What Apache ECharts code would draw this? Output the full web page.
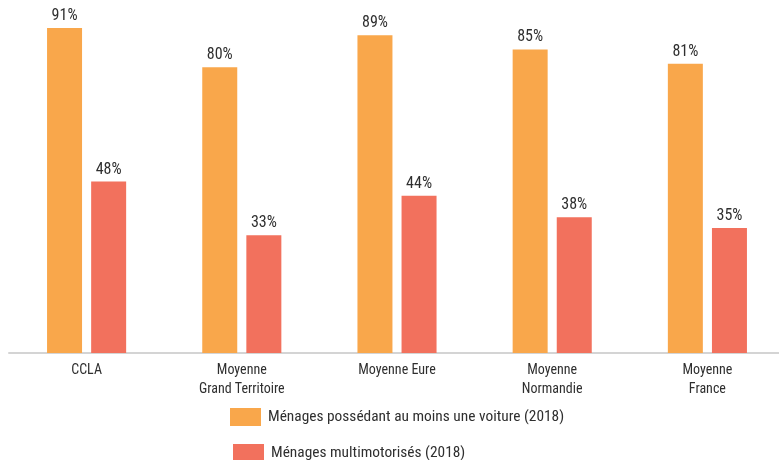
<!DOCTYPE html>
<html>
<head>
<meta charset="utf-8">
<style>
  html, body { margin: 0; padding: 0; background: #ffffff; }
  #chart { width: 779px; height: 460px; }
</style>
<script src="https://cdn.jsdelivr.net/npm/echarts@6/dist/echarts.min.js"></script>
</head>
<body>
<div id="chart"></div>
<script>
// Territories compared
const categories = ['CCLA', 'Moyenne\nGrand Territoire', 'Moyenne Eure', 'Moyenne\nNormandie', 'Moyenne\nFrance'];
// Share of households (%)
const auMoinsUneVoiture = [91, 80, 89, 85, 81];
const multimotorises = [48, 33, 44, 38, 35];
const seriesNames = ['Ménages possédant au moins une voiture (2018)', 'Ménages multimotorisés (2018)'];
const colors = ['#F9A74B', '#F2715D'];

const FONT = "'Roboto Condensed', 'DejaVu Sans Condensed', sans-serif";
const TEXT = '#2f2f2f';
const chart = echarts.init(document.getElementById('chart'), null, { renderer: 'canvas' });

const labelStyle = {
  show: true,
  position: 'top',
  distance: 4,
  formatter: '{c}%',
  color: TEXT,
  fontFamily: FONT,
  fontSize: 16
};

// one legend block per series, stacked vertically below the axis
function legendBlock(idx, left, top) {
  return {
    left: left,
    top: top,
    padding: 0,
    itemWidth: 31,
    itemHeight: 18,
    icon: 'rect',
    selectedMode: false,
    textStyle: { color: TEXT, fontFamily: FONT, fontSize: 15.4, padding: [0, 0, 0, 2] },
    data: [seriesNames[idx]]
  };
}

chart.setOption({
  animation: false,
  backgroundColor: '#ffffff',
  // the last category band runs slightly past the right edge
  grid: { left: 9, top: 28, width: 776, height: 325, containLabel: false, outerBoundsMode: 'none' },
  legend: [legendBlock(0, 230, 408), legendBlock(1, 233, 444)],
  xAxis: {
    type: 'category',
    data: categories,
    axisLine: { show: true, lineStyle: { color: '#d4d4d4', width: 2 } },
    axisTick: { show: false },
    axisLabel: {
      color: TEXT,
      fontFamily: FONT,
      fontSize: 14,
      lineHeight: 19,
      margin: 8,
      interval: 0
    }
  },
  yAxis: {
    type: 'value',
    min: 0,
    max: 91,
    show: false,
    splitLine: { show: false }
  },
  series: [
    {
      name: seriesNames[0],
      type: 'bar',
      data: auMoinsUneVoiture,
      barWidth: 35,
      barGap: '26%',
      itemStyle: { color: colors[0] },
      label: labelStyle
    },
    {
      name: seriesNames[1],
      type: 'bar',
      data: multimotorises,
      barWidth: 35,
      itemStyle: { color: colors[1] },
      label: labelStyle
    }
  ]
});
</script>
</body>
</html>
